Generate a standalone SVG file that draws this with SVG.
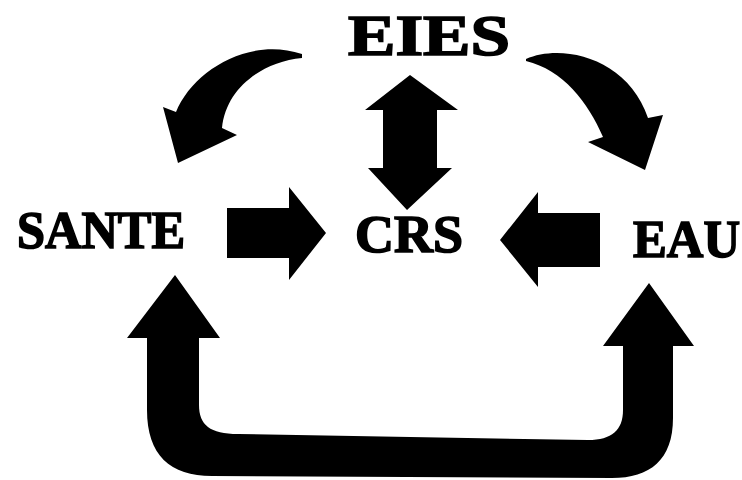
<svg xmlns="http://www.w3.org/2000/svg" width="742" height="480" viewBox="0 0 742 480">
<style>
.lbl{font-family:"Liberation Serif","Times New Roman",serif;font-weight:bold;fill:#000;stroke:#000;stroke-width:1.6}
.arr{fill:#000;stroke:none}
</style>
<rect width="742" height="480" fill="#fff"/>
<g id="node-EIES"><text class="lbl" x="348" y="55" font-size="56" textLength="162" lengthAdjust="spacingAndGlyphs">EIES</text></g>
<g id="node-SANTE"><text class="lbl" x="17" y="248" font-size="52" textLength="168" lengthAdjust="spacingAndGlyphs">SANTE</text></g>
<g id="node-CRS"><text class="lbl" x="355" y="252" font-size="52" textLength="108" lengthAdjust="spacingAndGlyphs">CRS</text></g>
<g id="node-EAU"><text class="lbl" x="633" y="257" font-size="52" textLength="107" lengthAdjust="spacingAndGlyphs">EAU</text></g>
<g id="connectors">
<path class="arr" d="M302,54 C248,36 192,72 176,112 L163,107 L178,163 L237,135 L222,128 C226,88 262,62 302,58 Z"/>
<path class="arr" d="M526,59 C562,43 628,58 648,118 L663,115 L645,170 L588,142 L603,137 C588,102 563,70 526,61 Z"/>
<path class="arr" d="M410,75 L458,110 L437,110 L437,168 L452,168 L407,210 L368,168 L383,168 L383,110 L365,110 Z"/>
<path class="arr" d="M227,208 L289,208 L289,187 L326,233 L289,280 L289,258 L227,258 Z"/>
<path class="arr" d="M600,213 L538,213 L538,192 L500,240 L538,287 L538,267 L600,267 Z"/>
<path class="arr" d="M175,275 L220,338 L199,338 L199,405 C199,425 210,434 238,434 L588,440 C612,440 623,430 623,410 L623,346 L603,346 L649,283 L694,346 L673,346 L673,418 C673,460 650,478 612,478 L212,476 C170,476 147,455 147,410 L147,338 L127,338 Z"/>
</g>
</svg>
